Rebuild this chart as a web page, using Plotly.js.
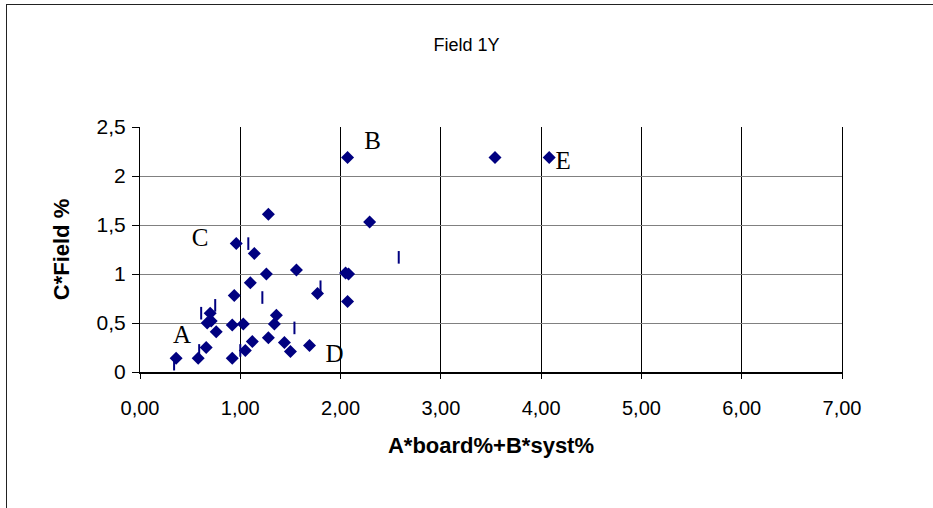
<!DOCTYPE html>
<html>
<head>
<meta charset="utf-8">
<script src="https://cdn.plot.ly/plotly-3.0.1.min.js"></script>
<style>
html,body{margin:0;padding:0;background:#fff;overflow:hidden;}
#frame{position:absolute;left:6px;top:4px;width:1000px;height:600px;border:1px solid #222;}
#chart{position:absolute;left:0;top:0;width:933px;height:508px;}
</style>
</head>
<body>
<div id="frame"></div>
<div id="chart"></div>
<script>
// Series 1: diamond markers
var diamondX = [2.07, 1.28, 2.29, 0.96, 1.14, 1.56, 1.26, 2.05, 2.08, 1.10, 0.94, 1.77, 2.07, 0.70, 1.36, 0.67, 0.71, 0.76, 0.92, 1.03, 1.34, 0.36, 0.58, 0.66, 0.92, 1.05, 1.12, 1.28, 1.44, 1.50, 1.69, 3.54, 4.08];
var diamondY = [2.19, 1.61, 1.53, 1.31, 1.21, 1.04, 1.00, 1.01, 1.00, 0.91, 0.78, 0.80, 0.72, 0.60, 0.58, 0.50, 0.52, 0.41, 0.48, 0.49, 0.49, 0.14, 0.14, 0.25, 0.14, 0.22, 0.31, 0.35, 0.30, 0.21, 0.27, 2.19, 2.19];
// Series 2: short vertical dash markers
var dashX = [1.08, 1.22, 1.80, 0.61, 0.75, 1.54, 0.59, 0.34, 1.00, 2.58];
var dashY = [1.31, 0.76, 0.87, 0.60, 0.68, 0.45, 0.22, 0.08, 0.22, 1.17];
// Point labels
var labelText = ["A", "B", "C", "D", "E"];
var labelX = [0.42, 2.32, 0.60, 1.94, 4.22];
var labelY = [0.36, 2.34, 1.35, 0.17, 2.14];
// Axis tick values
var xTicks = [0, 1, 2, 3, 4, 5, 6, 7];
var yTicks = [0, 0.5, 1, 1.5, 2, 2.5];

var traces = [
  {type: 'scatter', mode: 'markers', x: diamondX, y: diamondY,
   marker: {symbol: 'diamond', size: 10, color: '#000080', line: {width: 0}},
   hoverinfo: 'x+y', showlegend: false},
  {type: 'scatter', mode: 'markers', x: dashX, y: dashY,
   marker: {symbol: 'line-ns', size: 9, color: '#000080', line: {width: 2, color: '#000080'}},
   hoverinfo: 'x+y', showlegend: false},
  {type: 'scatter', mode: 'text', x: labelX, y: labelY, text: labelText,
   textposition: 'middle center',
   textfont: {family: 'Liberation Serif, Times New Roman, serif', size: 25, color: '#000'},
   hoverinfo: 'skip', showlegend: false}
];

var layout = {
  width: 933, height: 508,
  margin: {l: 140, r: 91, t: 127, b: 136, pad: 0},
  paper_bgcolor: 'rgba(0,0,0,0)', plot_bgcolor: '#fff',
  separators: ',.',
  font: {family: 'Liberation Sans, Arial, sans-serif', size: 20, color: '#000'},
  title: {text: 'Field 1Y', x: 0.5, xref: 'container', xanchor: 'center', y: 1 - 45/508, yanchor: 'middle',
          font: {family: 'Liberation Sans, Arial, sans-serif', size: 18, color: '#000'}},
  xaxis: {range: [0, 7], tickvals: xTicks, tickformat: '.2f',
          showgrid: true, gridcolor: '#000', gridwidth: 1,
          showline: true, linecolor: '#000', linewidth: 2, mirror: false,
          ticks: 'outside', ticklen: 5, tickcolor: '#000', zeroline: false,
          ticklabelstandoff: 12,
          tickfont: {size: 20},
          title: {text: '<b>A*board%+B*syst%</b>', standoff: 20, font: {size: 22}}},
  yaxis: {range: [0, 2.5], tickvals: yTicks,
          showgrid: true, gridcolor: '#808080', gridwidth: 1,
          showline: true, linecolor: '#000', linewidth: 1, mirror: true,
          ticks: 'outside', ticklen: 7, tickcolor: '#000', zeroline: false,
          ticklabelstandoff: 2,
          tickfont: {size: 21},
          title: {text: '<b>C*Field %</b>', standoff: 20, font: {size: 22}}}
};

Plotly.newPlot('chart', traces, layout, {displayModeBar: false, staticPlot: true});
</script>
</body>
</html>
